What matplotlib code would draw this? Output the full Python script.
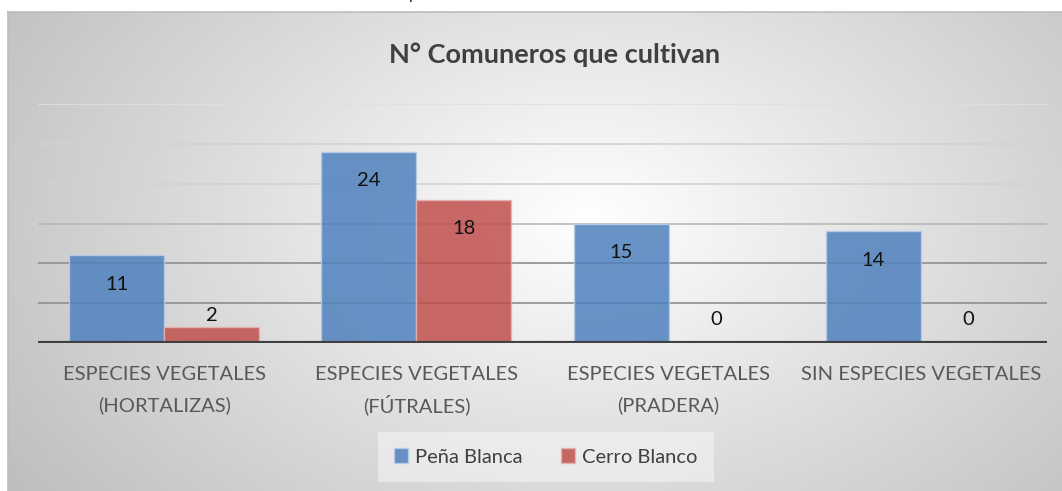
import numpy as np
import matplotlib
matplotlib.use("Agg")
import matplotlib.pyplot as plt
from matplotlib.patches import Patch

categories = ["ESPECIES VEGETALES\n(HORTALIZAS)", "ESPECIES VEGETALES\n(FÚTRALES)",
              "ESPECIES VEGETALES\n(PRADERA)", "SIN ESPECIES VEGETALES"]
pena_blanca = [11, 24, 15, 14]
cerro_blanco = [2, 18, 0, 0]
series_names = ["Peña Blanca", "Cerro Blanco"]
title = "N° Comuneros que cultivan"

W, H = 1062, 491
fig = plt.figure(figsize=(W / 100, H / 100), dpi=100)
fig.patch.set_facecolor("white")
FONT = ["Lato", "DejaVu Sans"]
FS = 14.5

# background with radial gradient
bg = fig.add_axes([8 / W, 0, 1 - 8 / W, (H - 12) / H], zorder=0)
xs = np.linspace(8, W, 400)
ys = np.linspace(12, H, 200)
X, Y = np.meshgrid(xs, ys)
r = np.sqrt(((X - 590) / 600) ** 2 + ((Y - 220) / 400) ** 2)
v = np.clip(255 - 55 * r, 0, 255) / 255
img = np.dstack([v, v, v])
bg.imshow(img, extent=[0, 1, 0, 1], aspect="auto", origin="upper")
bg.set_xlim(0, 1); bg.set_ylim(0, 1)
bg.set_xticks([]); bg.set_yticks([])
for s in ["right", "bottom"]:
    bg.spines[s].set_visible(False)
for s in ["left", "top"]:
    bg.spines[s].set_color("#BDBDBD")
    bg.spines[s].set_linewidth(1.2)

# clipped text fragment above the chart
fig.text(414 / W, 1.0 + 0.5 / H, "p", fontsize=12, family=FONT, color="#222222",
         ha="center", va="baseline")

left, right = 38 / W, 1047 / W
bottom, top = (H - 343) / H, (H - 104) / H
ax = fig.add_axes([left, bottom, right - left, top - bottom], zorder=1)
ax.patch.set_alpha(0)
ax.set_ylim(0, 30)
ax.set_xlim(-0.5, len(categories) - 0.5)

for gv in [5, 10, 15, 20, 25, 30]:
    col = "#8E8E8E" if gv <= 10 else ("#B8B8B8" if gv == 15 else "#D2D2D2")
    if gv == 30:
        col = "#E0E0E0"
    ax.axhline(gv, color=col, lw=1.2, zorder=1)

x = np.arange(len(categories))
bw = 0.377
b1 = ax.bar(x - bw / 2, pena_blanca, bw, color="#4F81BD", alpha=0.85,
            edgecolor="#B9CDE8", linewidth=1.0, zorder=2, label=series_names[0])
b2 = ax.bar(x + bw / 2, cerro_blanco, bw, color="#C0504D", alpha=0.85,
            edgecolor="#E6B4B3", linewidth=1.0, zorder=2, label=series_names[1])

for bars, vals in [(b1, pena_blanca), (b2, cerro_blanco)]:
    for rect, val in zip(bars, vals):
        yy = max(val - 3.6, 2.9 + 0.25 * val)
        ax.text(rect.get_x() + rect.get_width() / 2, yy, str(val), ha="center",
                va="center", fontsize=FS, family=FONT, color="#111111", zorder=4)

ax.axhline(0, color="#404040", lw=3, zorder=3)
for s in ax.spines.values():
    s.set_visible(False)
ax.set_yticks([])
ax.set_xticks(x)
ax.set_xticklabels([])
ax.tick_params(axis="x", length=0)
for xi, cat in zip(x, categories):
    for li, line in enumerate(cat.split("\n")):
        ax.annotate(line, xy=(xi, 0), xycoords=("data", "axes fraction"),
                    xytext=(0, -(32 + 30 * li) * 0.72), textcoords="offset points",
                    ha="center", va="center", fontsize=FS, family=FONT, color="#595959")

fig.text(555 / W, 1 - 55 / H, title, fontsize=19.5, fontweight="bold", family=FONT,
         color="#404040", ha="center", va="center")

handles = [Patch(facecolor="#4F81BD", alpha=0.85, edgecolor="#B9CDE8"),
           Patch(facecolor="#C0504D", alpha=0.85, edgecolor="#E6B4B3")]
leg = fig.legend(handles, series_names, loc="center", bbox_to_anchor=(546 / W, (H - 457) / H),
                 ncol=2, frameon=True, handlelength=0.7, handleheight=0.7,
                 handletextpad=0.35, columnspacing=1.9, prop={"family": FONT, "size": FS},
                 borderpad=0.8, borderaxespad=0)
fr = leg.get_frame()
fr.set_facecolor("#F6F6F6")
fr.set_alpha(0.55)
fr.set_linewidth(0)
fr.set_boxstyle("square", pad=0)
for t in leg.get_texts():
    t.set_color("#404040")

fig.savefig("out.png", dpi=100)
